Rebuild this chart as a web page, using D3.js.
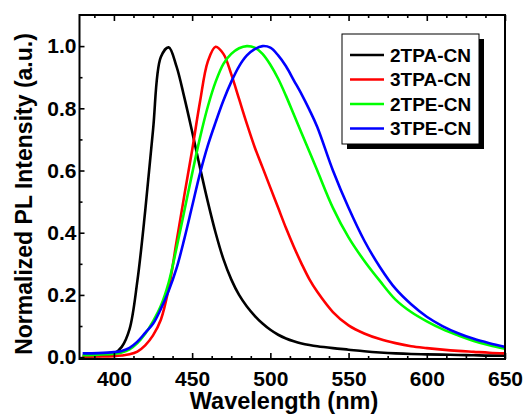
<!DOCTYPE html>
<html>
<head>
<meta charset="utf-8">
<script src="https://cdn.jsdelivr.net/npm/d3@7"></script>
<style>
  html, body { margin: 0; padding: 0; background: #fff; }
  svg { display: block; font-family: "Liberation Sans", Arial, sans-serif; font-weight: bold; }
</style>
</head>
<body>
<svg id="chart" width="524" height="416"></svg>
<script>
// ---- data ----
const wavelength = [380, 390, 400, 405, 410, 415, 420, 425, 430, 435, 440, 445, 450, 455, 460, 465, 470, 475, 480, 485, 490, 495, 500, 505, 510, 515, 520, 525, 530, 540, 550, 560, 570, 580, 590, 600, 610, 620, 630, 640, 650];
const seriesNames = ["2TPA-CN", "3TPA-CN", "2TPE-CN", "3TPE-CN"];
const tpa2 = [0.002, 0.004, 0.011, 0.033, 0.09, 0.245, 0.47, 0.73, 0.965, 0.996, 0.935, 0.835, 0.725, 0.61, 0.5, 0.4, 0.315, 0.25, 0.2, 0.163, 0.133, 0.108, 0.088, 0.072, 0.06, 0.051, 0.044, 0.039, 0.035, 0.029, 0.024, 0.019, 0.015, 0.012, 0.01, 0.009, 0.008, 0.007, 0.006, 0.005, 0.005];
const tpa3 = [0.002, 0.002, 0.003, 0.005, 0.009, 0.018, 0.038, 0.07, 0.12, 0.22, 0.37, 0.52, 0.665, 0.82, 0.95, 0.998, 0.975, 0.91, 0.83, 0.75, 0.675, 0.61, 0.545, 0.48, 0.415, 0.355, 0.3, 0.25, 0.21, 0.145, 0.102, 0.076, 0.058, 0.045, 0.035, 0.029, 0.024, 0.02, 0.017, 0.014, 0.012];
const tpe2 = [0.006, 0.008, 0.011, 0.015, 0.025, 0.045, 0.075, 0.115, 0.165, 0.24, 0.35, 0.47, 0.59, 0.705, 0.805, 0.885, 0.943, 0.975, 0.993, 1.0, 0.995, 0.975, 0.94, 0.895, 0.84, 0.78, 0.72, 0.66, 0.6, 0.48, 0.385, 0.31, 0.245, 0.185, 0.145, 0.115, 0.09, 0.07, 0.052, 0.038, 0.027];
const tpe3 = [0.012, 0.013, 0.016, 0.02, 0.03, 0.05, 0.078, 0.107, 0.155, 0.213, 0.285, 0.38, 0.485, 0.59, 0.68, 0.755, 0.825, 0.885, 0.935, 0.97, 0.99, 1.0, 0.995, 0.97, 0.935, 0.89, 0.845, 0.795, 0.74, 0.6, 0.48, 0.375, 0.29, 0.22, 0.17, 0.13, 0.1, 0.077, 0.059, 0.045, 0.033];
const seriesColors = ["#000000", "#ff0000", "#00ff00", "#0000ff"];
const xTicks = [400, 450, 500, 550, 600, 650];
const yTicks = [0.0, 0.2, 0.4, 0.6, 0.8, 1.0];

const seriesValues = [tpa2, tpa3, tpe2, tpe3];

// ---- layout ----
const svg = d3.select("#chart");
const L = 79.5, R = 505, T = 15, B = 359;

const x = d3.scaleLinear().domain([378, 650]).range([L, R]);
const y = d3.scaleLinear().domain([-0.006, 1.1]).range([B, T]);

svg.append("defs").append("clipPath").attr("id", "clip")
  .append("rect").attr("x", L).attr("y", T).attr("width", R - L).attr("height", B - T);

// curves
const line = d3.line()
  .x(d => x(d[0]))
  .y(d => y(d[1]))
  .curve(d3.curveCatmullRom.alpha(0.5));

const g = svg.append("g").attr("clip-path", "url(#clip)");
seriesValues.forEach((vals, i) => {
  g.append("path")
    .datum(wavelength.map((w, j) => [w, vals[j]]))
    .attr("fill", "none")
    .attr("stroke", seriesColors[i])
    .attr("stroke-width", 2.6)
    .attr("stroke-linejoin", "round")
    .attr("d", line);
});

// minor tick values
const xMinor = d3.range(387.5, 650, 12.5).filter(v => !xTicks.includes(v));
const yMinor = [0.1, 0.3, 0.5, 0.7, 0.9];

function styleAxis(sel) {
  sel.select(".domain").remove();
  sel.selectAll("line").attr("stroke", "#000").attr("stroke-width", 1.6);
  sel.selectAll("text").attr("fill", "#000").style("font-size", "21px").style("font-weight", "bold")
     .style("font-family", "'Liberation Sans', Arial, sans-serif");
}

// bottom axis
svg.append("g").attr("transform", `translate(0,${B})`)
  .call(d3.axisBottom(x).tickValues(xTicks).tickFormat(d3.format("d")).tickSize(-6).tickPadding(12))
  .call(styleAxis);
svg.append("g").attr("transform", `translate(0,${B})`)
  .call(d3.axisBottom(x).tickValues(xMinor).tickFormat("").tickSize(-3))
  .call(styleAxis);
// top ticks
svg.append("g").attr("transform", `translate(0,${T})`)
  .call(d3.axisTop(x).tickValues(xTicks).tickFormat("").tickSize(-6))
  .call(styleAxis);
svg.append("g").attr("transform", `translate(0,${T})`)
  .call(d3.axisTop(x).tickValues(xMinor).tickFormat("").tickSize(-3))
  .call(styleAxis);
// left axis
svg.append("g").attr("transform", `translate(${L},0)`)
  .call(d3.axisLeft(y).tickValues(yTicks).tickFormat(d3.format(".1f")).tickSize(-5).tickPadding(3))
  .call(styleAxis);
svg.append("g").attr("transform", `translate(${L},0)`)
  .call(d3.axisLeft(y).tickValues(yMinor).tickFormat("").tickSize(-3))
  .call(styleAxis);

// frame
svg.append("rect").attr("x", L).attr("y", T).attr("width", R - L).attr("height", B - T)
  .attr("fill", "none").attr("stroke", "#000").attr("stroke-width", 2);

// axis titles
svg.append("text")
  .attr("x", 284).attr("y", 409)
  .attr("text-anchor", "middle")
  .style("font-size", "23.5px")
  .text("Wavelength (nm)");
svg.append("text")
  .attr("transform", `translate(32,194) rotate(-90)`)
  .attr("text-anchor", "middle")
  .style("font-size", "23px")
  .text("Normalized PL Intensity (a.u.)");

// legend
const lg = svg.append("g");
const lx = 342, ly = 34, lw = 137, lh = 110;
lg.append("rect").attr("x", lx + 5).attr("y", ly + 5).attr("width", lw).attr("height", lh).attr("fill", "#000");
lg.append("rect").attr("x", lx).attr("y", ly).attr("width", lw).attr("height", lh)
  .attr("fill", "#fff").attr("stroke", "#000").attr("stroke-width", 1);
seriesNames.forEach((name, i) => {
  const by = 61.5 + i * 24.5;
  lg.append("line").attr("x1", 350).attr("x2", 384).attr("y1", by - 6.5).attr("y2", by - 6.5)
    .attr("stroke", seriesColors[i]).attr("stroke-width", 2.6);
  lg.append("text").attr("x", 390).attr("y", by).style("font-size", "19px").text(name);
});
</script>
</body>
</html>
